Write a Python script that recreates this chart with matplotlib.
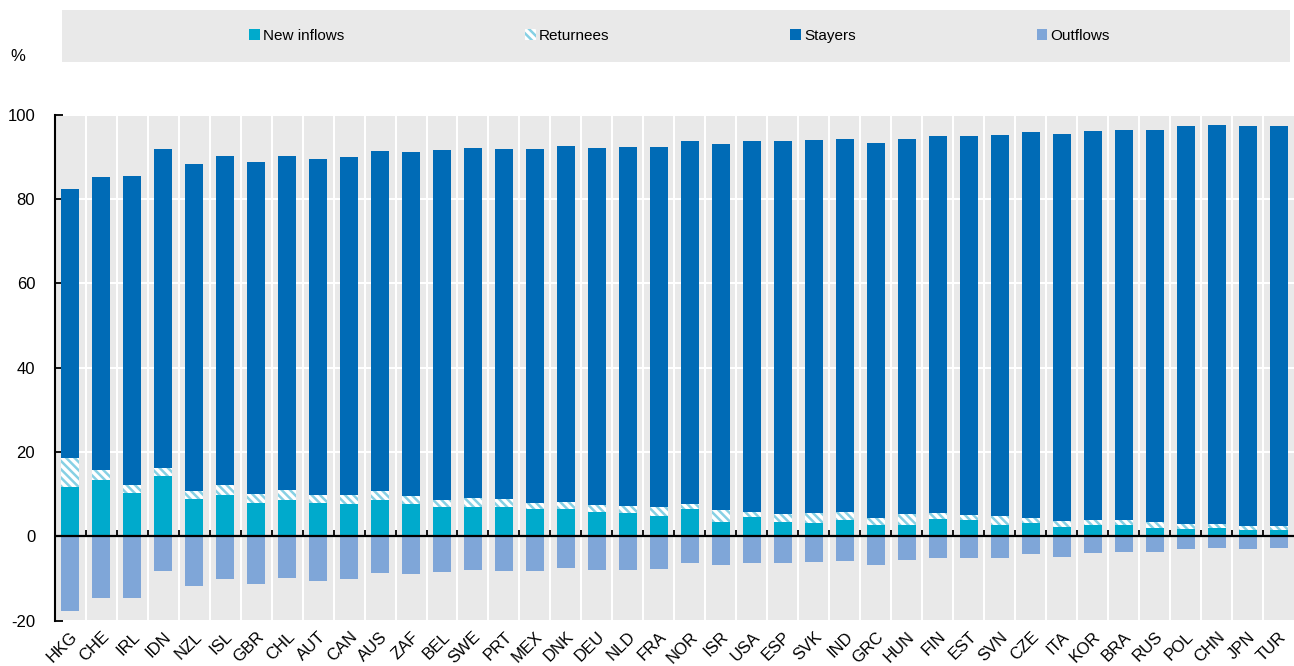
import matplotlib

matplotlib.use("Agg")
import matplotlib.pyplot as plt
import numpy as np
from matplotlib.patches import Rectangle

plt.rcParams["font.family"] = ["Liberation Sans", "DejaVu Sans"]
plt.rcParams["hatch.linewidth"] = 1.8
plt.rcParams["axes.unicode_minus"] = False

countries = [
    "HKG", "CHE", "IRL", "IDN", "NZL", "ISL", "GBR", "CHL", "AUT", "CAN", "AUS",
    "ZAF", "BEL", "SWE", "PRT", "MEX", "DNK", "DEU", "NLD", "FRA", "NOR", "ISR",
    "USA", "ESP", "SVK", "IND", "GRC", "HUN", "FIN", "EST", "SVN", "CZE", "ITA",
    "KOR", "BRA", "RUS", "POL", "CHN", "JPN", "TUR",
]
new_inflows = [
    11.6, 13.3, 10.2, 14.3, 8.8, 9.7, 8.0, 8.7, 7.8, 7.6, 8.7,
    7.7, 6.9, 6.9, 6.9, 6.5, 6.6, 5.7, 5.5, 4.9, 6.4, 3.5,
    4.6, 3.5, 3.1, 3.9, 2.6, 2.8, 4.0, 3.8, 2.8, 3.1, 2.1,
    2.6, 2.6, 1.9, 1.65, 1.9, 1.4, 1.4,
]
returnees = [
    6.9, 2.4, 2.0, 1.9, 2.0, 2.5, 2.1, 2.3, 2.1, 2.2, 2.0,
    1.9, 1.8, 2.2, 2.0, 1.5, 1.6, 1.8, 1.7, 2.1, 1.3, 2.8,
    1.2, 1.9, 2.4, 1.9, 1.8, 2.5, 1.6, 1.3, 2.0, 1.3, 1.6,
    1.3, 1.2, 1.4, 1.35, 1.0, 1.0, 1.1,
]
stayers = [
    63.9, 69.6, 73.2, 75.6, 77.5, 77.9, 78.6, 79.2, 79.5, 80.2, 80.6,
    81.5, 83.0, 83.0, 83.0, 83.9, 84.4, 84.6, 85.0, 85.4, 86.0, 86.8,
    88.0, 88.4, 88.5, 88.5, 88.9, 89.0, 89.4, 89.9, 90.3, 91.5, 91.6,
    92.3, 92.6, 93.0, 94.3, 94.6, 94.8, 94.9,
]
outflows = [
    -17.6, -14.7, -14.6, -8.3, -11.8, -10.0, -11.3, -9.8, -10.5, -10.0, -8.7,
    -8.9, -8.5, -8.0, -8.3, -8.3, -7.6, -8.0, -8.0, -7.8, -6.4, -6.9,
    -6.2, -6.3, -6.1, -5.8, -6.8, -5.7, -5.2, -5.2, -5.1, -4.3, -4.8,
    -4.0, -3.8, -3.8, -2.9, -2.7, -2.9, -2.75,
]

C_NEW = "#00aacc"
C_RET = "#86d0e4"
C_STAY = "#006bb6"
C_OUT = "#7fa6d8"
C_BG = "#e9e9e9"

x = np.arange(len(countries))
ni = np.array(new_inflows)
rt = np.array(returnees)
st = np.array(stayers)
out = np.array(outflows)

fig = plt.figure(figsize=(12.94, 6.66), dpi=100)
ax = fig.add_axes([0.0422, 0.068, 0.958, 0.760])
ax.set_facecolor(C_BG)

w = 0.58
ax.bar(x, ni, w, color=C_NEW, label="New inflows", zorder=3)
ax.bar(x, rt, w, bottom=ni, facecolor="white", edgecolor=C_RET, hatch="\\\\\\\\",
       linewidth=0, label="Returnees", zorder=3)
ax.bar(x, st, w, bottom=ni + rt, color=C_STAY, label="Stayers", zorder=3)
ax.bar(x, out, w, color=C_OUT, label="Outflows", zorder=3)

ax.set_xlim(-0.5, len(countries) - 0.5)
ax.set_ylim(-20, 100)
ax.set_yticks(np.arange(-20, 101, 20))

# white separators between categories and white horizontal grid
bounds = np.arange(0.5, len(countries) - 0.5, 1.0)
for b in bounds:
    ax.axvline(b, color="white", lw=1.5, zorder=1)
for yv in range(-20, 101, 20):
    ax.axhline(yv, color="white", lw=1.5, zorder=1)

ax.axhline(0, color="black", lw=1.6, zorder=4)
ax.vlines(bounds, 0, 1.4, color="black", lw=1.3, zorder=4)

ax.set_xticks(x)
ax.set_xticklabels(countries, rotation=45, ha="right", va="top",
                   rotation_mode="anchor", fontsize=12)
ax.tick_params(axis="x", length=0, pad=6)
ax.tick_params(axis="y", direction="in", length=6, width=1.3, pad=14, labelsize=12)
for side in ["top", "right", "bottom"]:
    ax.spines[side].set_visible(False)
ax.spines["left"].set_linewidth(1.5)

fig.text(0.008, 0.915, "%", fontsize=12, ha="left", va="center")

# legend band
fig.patches.append(Rectangle((0.0479, 0.907), 0.949, 0.078, transform=fig.transFigure,
                             facecolor=C_BG, edgecolor="none", zorder=0))
handles, labels = ax.get_legend_handles_labels()
fig.legend(handles, labels, loc="center", bbox_to_anchor=(0.525, 0.946), ncol=4,
           frameon=False, fontsize=11, handlelength=0.7, handleheight=0.7,
           handletextpad=0.2, columnspacing=11.85)

fig.savefig("out.png", dpi=100)
